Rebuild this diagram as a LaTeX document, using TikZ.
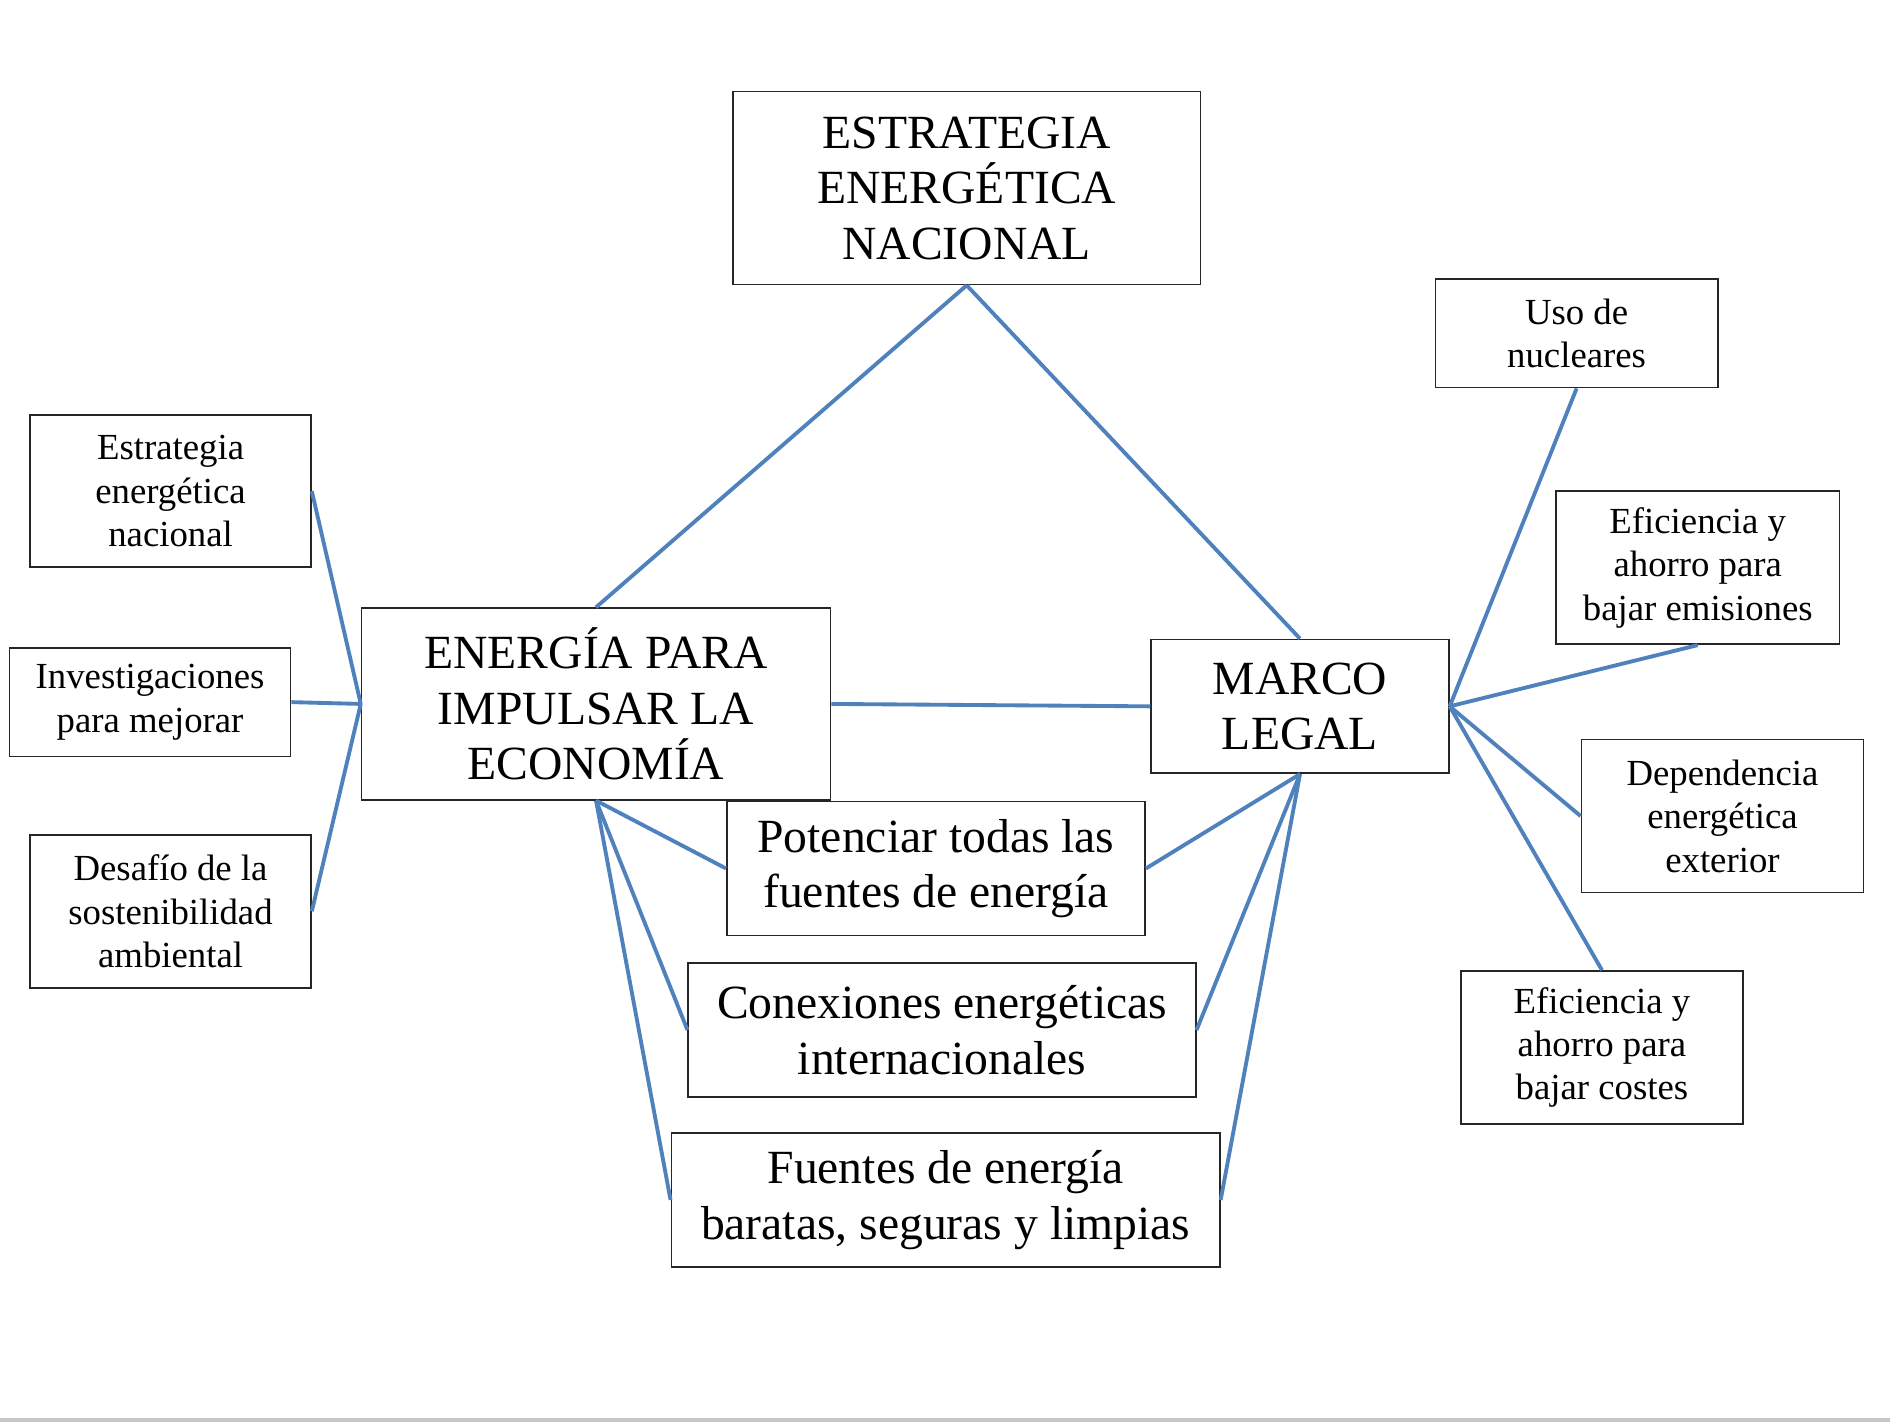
\documentclass[tikz,border=0pt]{standalone}
\usepackage{fontspec}
\setmainfont{Liberation Serif}
\definecolor{linkblue}{RGB}{79,129,189}
\begin{document}
\begin{tikzpicture}[x=1pt,y=-1pt,
  box/.style={draw=black!85, line width=1.4pt, align=center, inner sep=0pt},
  bigbox/.style={box, font=\fontsize{39.5}{46}\selectfont},
  smallbox/.style={box, font=\fontsize{30.5}{36}\selectfont, minimum width=233pt},
  link/.style={linkblue, line width=3.2pt}]
\useasboundingbox (0,0) rectangle (1568,1180);
\fill[gray!45] (0,1176) rectangle (1568,1180);

% main boxes
\node[bigbox, minimum width=388pt, minimum height=160pt] (estrategia) at (802,156) {ESTRATEGIA\\ENERG\'ETICA\\NACIONAL};
\node[bigbox, minimum width=389pt, minimum height=159pt] (energia) at (494.5,584) {ENERG\'IA PARA\\IMPULSAR LA\\ECONOM\'IA};
\node[bigbox, minimum width=247pt, minimum height=111pt] (marco) at (1078.5,586) {MARCO\\LEGAL};

% boxes below
\node[bigbox, minimum width=347pt, minimum height=111pt] (potenciar) at (776.5,720.5) {Potenciar todas las\\fuentes de energ\'ia};
\node[bigbox, minimum width=421pt, minimum height=111pt] (conexiones) at (781.5,854.5) {Conexiones energ\'eticas\\internacionales};
\node[bigbox, minimum width=455pt, minimum height=111pt] (fuentes) at (784.5,995.5) {Fuentes de energ\'ia\\baratas, seguras y limpias};

% left boxes
\node[smallbox, minimum height=126pt] (estnac) at (141.5,407.5) {Estrategia\\energ\'etica\\nacional};
\node[smallbox, minimum height=90pt] (investig) at (124.5,582.5) {Investigaciones\\para mejorar};
\node[smallbox, minimum height=127pt] (desafio) at (141.5,756) {Desaf\'io de la\\sostenibilidad\\ambiental};

% right boxes
\node[smallbox, minimum width=234pt, minimum height=90pt] (uso) at (1308,276.5) {Uso de\\nucleares};
\node[smallbox, minimum width=235pt, minimum height=127pt] (efiemis) at (1408.5,471) {Eficiencia y\\ahorro para\\bajar emisiones};
\node[smallbox, minimum width=234pt, minimum height=127pt] (dependencia) at (1429,677) {Dependencia\\energ\'etica\\exterior};
\node[smallbox, minimum width=234pt, minimum height=127pt] (eficostes) at (1329,869) {Eficiencia y\\ahorro para\\bajar costes};

% connectors
\draw[link] (estrategia.south) -- (energia.north);
\draw[link] (estrategia.south) -- (marco.north);
\draw[link] (energia.east) -- (marco.west);

\draw[link] (energia.west) -- (estnac.east);
\draw[link] (energia.west) -- (investig.east);
\draw[link] (energia.west) -- (desafio.east);

\draw[link] (energia.south) -- (potenciar.west);
\draw[link] (energia.south) -- (conexiones.west);
\draw[link] (energia.south) -- (fuentes.west);
\draw[link] (marco.south) -- (potenciar.east);
\draw[link] (marco.south) -- (conexiones.east);
\draw[link] (marco.south) -- (fuentes.east);

\draw[link] (marco.east) -- (uso.south);
\draw[link] (marco.east) -- (efiemis.south);
\draw[link] (marco.east) -- (dependencia.west);
\draw[link] (marco.east) -- (eficostes.north);
\end{tikzpicture}
\end{document}
